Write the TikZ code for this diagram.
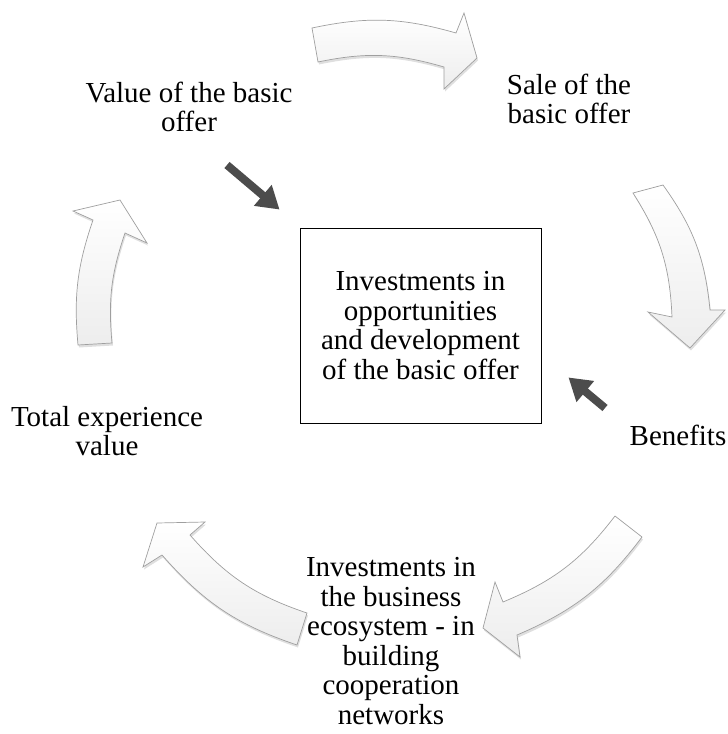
\documentclass[tikz,border=0pt]{standalone}
\usepackage{fontspec}
\setmainfont{Liberation Serif}
\usepackage{tikz}
\usetikzlibrary{arrows.meta,shadows}

\begin{document}
\begin{tikzpicture}[x=1pt, y=-1pt,
  every node/.style = {align=center, inner sep=2pt,
  font=\fontsize{29}{29.5}\selectfont},
  box/.style = {draw, line width=0.9pt, minimum width=241pt, minimum height=195pt},
  cycarrow/.style = {draw=gray!75, line width=0.7pt, top color=white,
  bottom color=gray!14, drop shadow={opacity=0.25, shadow xshift=1pt, shadow yshift=-2.5pt}},
  pointer/.style = {line width=8pt, draw=black!70, -{Triangle[length=22pt,width=26pt]}}]
  \useasboundingbox (0,0) rectangle (728,734);
  % labels round the cycle
  \node (value) at (189,107) {Value of the basic\\offer};
  \node (sale) at (569,99) {Sale of the\\basic offer};
  \node (benefits) at (678,435) {Benefits};
  \node (ecosys) at (391,641) {Investments in\\the business\\ecosystem - in\\building\\cooperation\\networks};
  \node (total) at (107,431) {Total experience\\value};
  % centre
  \node[box] (core) at (420.5,325.5) {Investments in\\opportunities\\and development\\of the basic offer};
  % cycle arrows
  \path[cycarrow] (312,28) to[bend left=14] (456,33) -- (464,13) -- (477,58)
    -- (444,89) -- (444,67) to[bend right=14] (318,62) -- cycle;
  \path[cycarrow] (663,185) to[bend left=15] (710,310) -- (725,310) -- (690,348)
    -- (648,312) -- (672,317) to[bend right=15] (633,193) -- cycle;
  \path[cycarrow] (642,537) to[bend left=15] (517,635) -- (520,657) -- (483,628)
    -- (495,582) -- (503,602) to[bend right=15] (615,516) -- cycle;
  \path[cycarrow] (297,645) to[bend left=15] (162,555) -- (143,567) -- (157,523)
    -- (205,522) -- (190,535) to[bend right=15] (307,613) -- cycle;
  \path[cycarrow] (78,345) to[bend left=12] (93,220) -- (73,211) -- (120,200)
    -- (147,243) -- (125,233) to[bend right=12] (112,343) -- cycle;
  % pointers into the centre
  \draw[pointer] ([shift={(38,58)}]value.center) -- ([shift={(-20,-18)}]core.north west);
  \draw[pointer] ([shift={(-73,-27)}]benefits.center) -- ([shift={(27,-46)}]core.south east);
\end{tikzpicture}
\end{document}
